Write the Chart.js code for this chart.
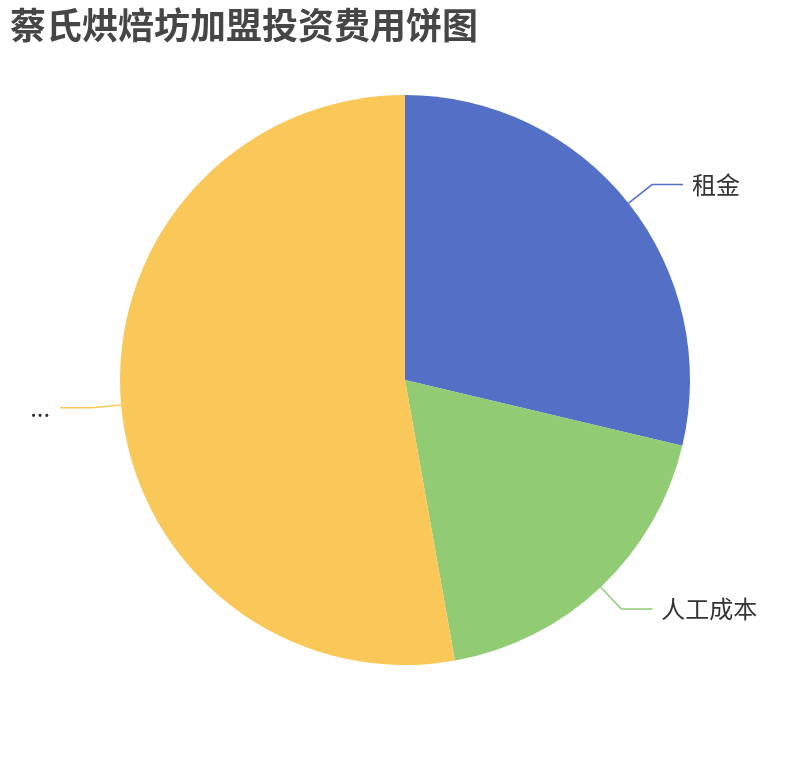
<!DOCTYPE html>
<html>
<head>
<meta charset="utf-8">
<script src="https://cdn.jsdelivr.net/npm/chart.js@4"></script>
<style>
  html, body { margin: 0; padding: 0; background: #fff; }
  #wrap { width: 810px; height: 760px; }
</style>
</head>
<body>
<div id="wrap"><canvas id="pieChart" width="810" height="760"></canvas></div>
<script>
// data (share of total, %)
const categories = ['租金', '人工成本', '...'];
const values = [28.7, 18.5, 52.8];
const colors = ['#5470c6', '#91cc75', '#fac858'];

const FONT = '"Noto Sans CJK SC", "Noto Sans", sans-serif';

// label lines + labels like echarts' outside labels
const leaderLabels = {
    id: 'leaderLabels',
    afterDatasetsDraw(chart) {
        const c = chart.ctx;
        const arcs = chart.getDatasetMeta(0).data;
        arcs.forEach((arc, i) => {
            const mid = (arc.startAngle + arc.endAngle) / 2;
            const r = arc.outerRadius;
            const cos = Math.cos(mid), sin = Math.sin(mid);
            const x0 = arc.x + cos * r, y0 = arc.y + sin * r;
            const x1 = arc.x + cos * (r + 30), y1 = arc.y + sin * (r + 30);
            const right = cos >= 0;
            const x2 = x1 + (right ? 31 : -31);
            c.save();
            c.strokeStyle = colors[i];
            c.lineWidth = 1.5;
            c.beginPath();
            c.moveTo(x0, y0);
            c.lineTo(x1, y1);
            c.lineTo(x2, y1);
            c.stroke();
            c.fillStyle = '#333';
            c.font = '24px ' + FONT;
            c.textBaseline = 'middle';
            c.textAlign = right ? 'left' : 'right';
            c.fillText(categories[i], x2 + (right ? 9 : -10), y1);
            c.restore();
        });
    }
};

new Chart(document.getElementById('pieChart'), {
    type: 'pie',
    data: {
        labels: categories,
        datasets: [{
            data: values,
            backgroundColor: colors,
            borderWidth: 0
        }]
    },
    options: {
        responsive: false,
        animation: false,
        layout: { padding: { left: 10, right: 10, top: 0, bottom: 95 } },
        plugins: {
            legend: { display: false },
            tooltip: { enabled: false },
            title: {
                display: true,
                text: '蔡氏烘焙坊加盟投资费用饼图',
                align: 'start',
                color: '#464646',
                font: { family: FONT, size: 36, weight: 'bold', lineHeight: 1.2 },
                padding: { top: 4, bottom: 47.8 }
            }
        }
    },
    plugins: [leaderLabels]
});
</script>
</body>
</html>
